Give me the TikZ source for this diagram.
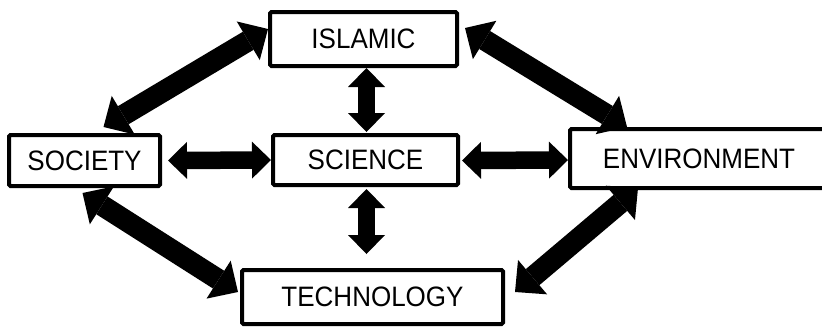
\documentclass[tikz,border=0pt]{standalone}
\usepackage{fontspec}
\usepackage{graphicx}
\setmainfont{Liberation Sans}
\usetikzlibrary{arrows.meta,calc}
\newcommand{\tallt}[1]{\scalebox{1}[1.08]{#1}}
\tikzset{
  box/.style={draw, line width=4pt, rounded corners=1.5pt, inner sep=0pt,
    font=\fontsize{26}{30}\selectfont},
  bigarrow/.style={line width=21pt,
    {Triangle[width=45pt,length=23pt,line width=0pt]}-{Triangle[width=45pt,length=23pt,line width=0pt]}},
  smallarrow/.style={line width=17.5pt,
    {Triangle[width=37pt,length=19pt,line width=0pt]}-{Triangle[width=37pt,length=19pt,line width=0pt]}}
}
\begin{document}
\begin{tikzpicture}[x=1pt,y=-1pt]
\useasboundingbox (0,0) rectangle (822,327);
\clip (0,0) rectangle (822,327);
\node[box, minimum width=187pt, minimum height=54pt] (islamic) at (363.5,39) {\tallt{ISLAMIC}};
\node[box, minimum width=151pt, minimum height=51pt] (society) at (84.5,160.5) {\tallt{SOCIETY}};
\node[box, minimum width=185pt, minimum height=50pt] (science) at (365.5,160) {\tallt{SCIENCE}};
\node[box, minimum width=258pt, minimum height=59pt] (environment) at (699,158.5) {\tallt{ENVIRONMENT}};
\node[box, minimum width=261pt, minimum height=54pt] (technology) at (372.5,297) {\tallt{TECHNOLOGY}};

% diagonal arrows
\draw[bigarrow] ($(society.north)+(19,-6)$) -- ($(islamic.west)+(0,-10)$);
\draw[bigarrow] ($(islamic.east)+(6,-11)$) -- ($(environment.north west)+(59,0)$);
\draw[bigarrow] ($(society.south)+(-2,5)$) -- ($(technology.west)+(-2,-5)$);
\draw[bigarrow] ($(environment.south west)+(70,-2)$) -- ($(technology.east)+(10,-5)$);

% straight arrows
\draw[smallarrow] ($(islamic.south)+(3,0)$) -- ($(science.north)+(1,-1)$);
\draw[smallarrow] ($(science.south)+(1,2)$) -- ($(science.south)+(1,67)$);
\draw[smallarrow] ($(society.east)+(6,0)$) -- (science.west);
\draw[smallarrow] ($(science.east)+(2,0.5)$) -- (science.east -| environment.west);
\end{tikzpicture}
\end{document}
